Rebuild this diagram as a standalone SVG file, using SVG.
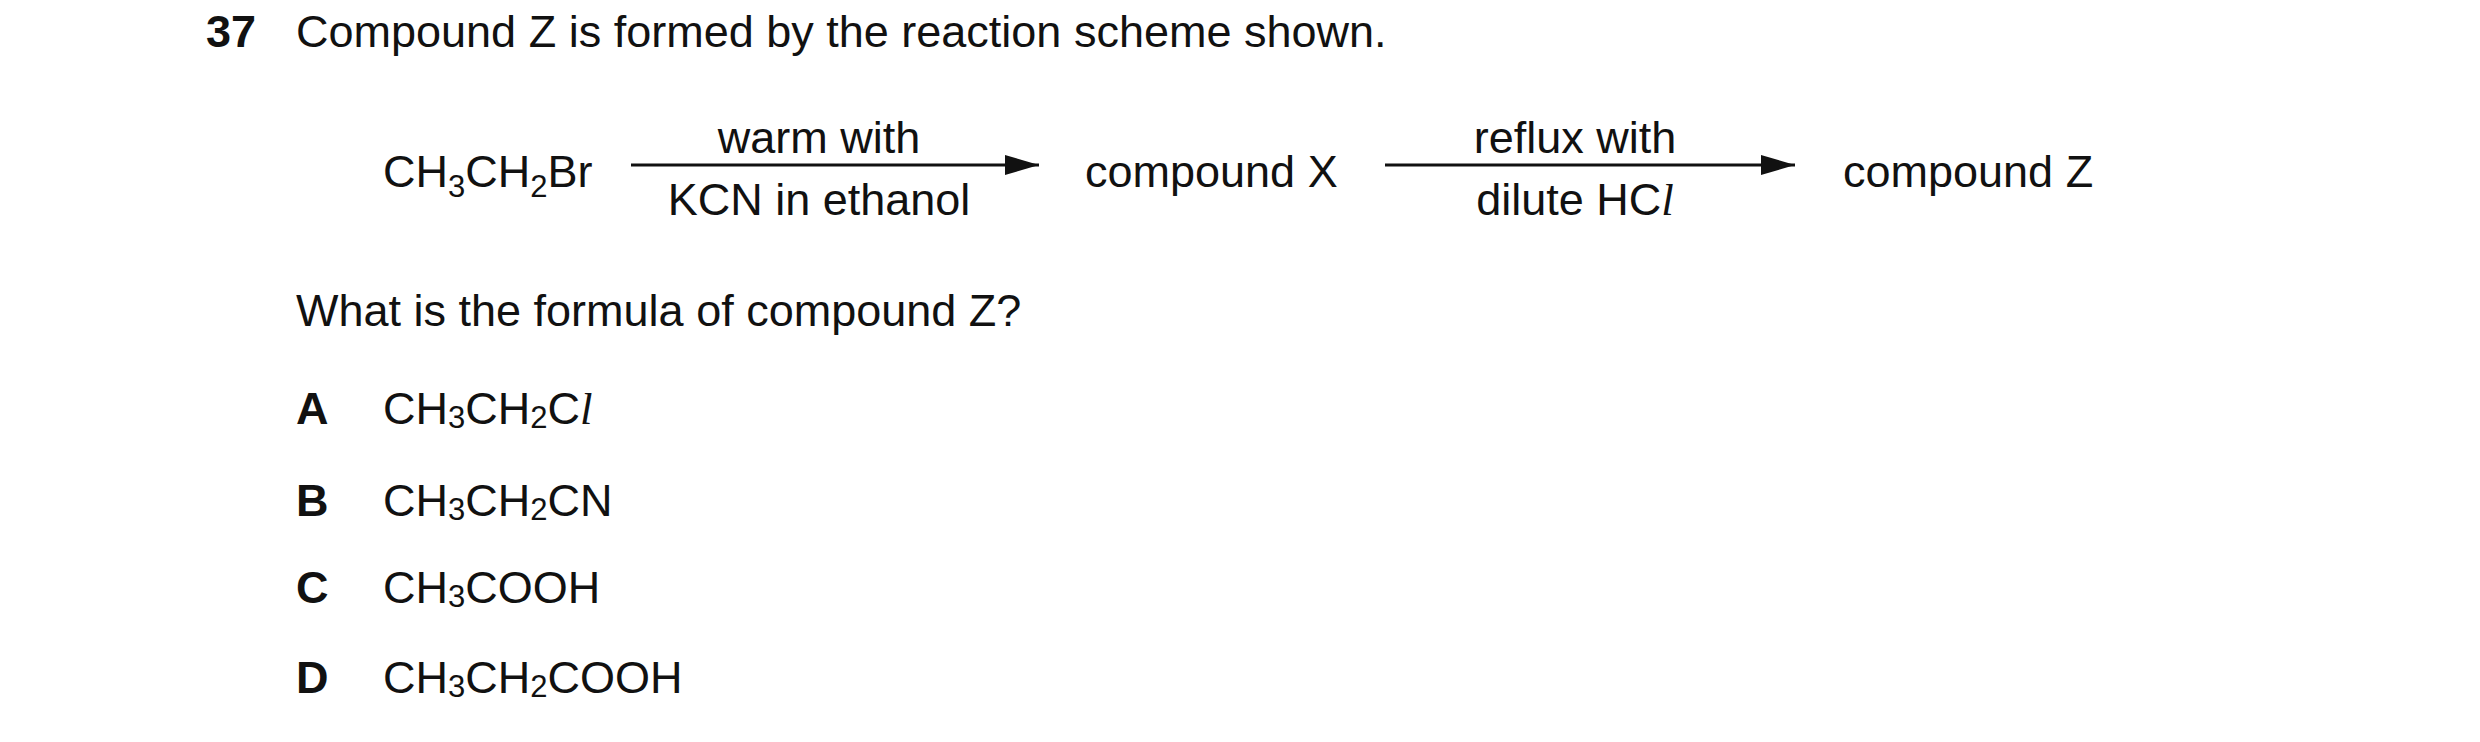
<svg xmlns="http://www.w3.org/2000/svg" width="2480" height="742" viewBox="0 0 2480 742">
<style>
text{font-family:"Liberation Sans",Arial,sans-serif;font-size:45px;fill:#111}
.b{font-weight:bold}
.m{text-anchor:middle}
.i{font-family:"Liberation Serif",serif;font-style:italic}
line{stroke:#111;stroke-width:3}
</style>
<defs><marker id="ah" markerWidth="34" markerHeight="20" refX="34" refY="10" orient="auto" markerUnits="userSpaceOnUse"><path d="M0,0L34,10L0,20z" fill="#111"/></marker></defs>
<rect width="2480" height="742" fill="#fff"/>
<text class="b" x="206" y="47">37</text>
<text x="296" y="47">Compound Z is formed by the reaction scheme shown.</text>
<g id="n1"><text x="383" y="187">CH<tspan font-size="31" dy="10">3</tspan><tspan dy="-10">CH</tspan><tspan font-size="31" dy="10">2</tspan><tspan dy="-10">Br</tspan></text></g>
<g id="n2"><text x="1085" y="187">compound X</text></g>
<g id="n3"><text x="1843" y="187">compound Z</text></g>
<g id="connectors">
<line x1="631" y1="165" x2="1039" y2="165" marker-end="url(#ah)"/>
<line x1="1385" y1="165" x2="1795" y2="165" marker-end="url(#ah)"/>
<text class="m" x="819" y="153">warm with</text>
<text class="m" x="819" y="215">KCN in ethanol</text>
<text class="m" x="1575" y="153">reflux with</text>
<text class="m" x="1575" y="215">dilute HC<tspan class="i">l</tspan></text>
</g>
<text x="296" y="326">What is the formula of compound Z?</text>
<text class="b" x="296" y="424">A</text>
<text x="383" y="424">CH<tspan font-size="31" dy="4">3</tspan><tspan dy="-4">CH</tspan><tspan font-size="31" dy="4">2</tspan><tspan dy="-4">C</tspan><tspan class="i">l</tspan></text>
<text class="b" x="296" y="516">B</text>
<text x="383" y="516">CH<tspan font-size="31" dy="4">3</tspan><tspan dy="-4">CH</tspan><tspan font-size="31" dy="4">2</tspan><tspan dy="-4">CN</tspan></text>
<text class="b" x="296" y="603">C</text>
<text x="383" y="603">CH<tspan font-size="31" dy="4">3</tspan><tspan dy="-4">COOH</tspan></text>
<text class="b" x="296" y="693">D</text>
<text x="383" y="693">CH<tspan font-size="31" dy="4">3</tspan><tspan dy="-4">CH</tspan><tspan font-size="31" dy="4">2</tspan><tspan dy="-4">COOH</tspan></text>
</svg>
